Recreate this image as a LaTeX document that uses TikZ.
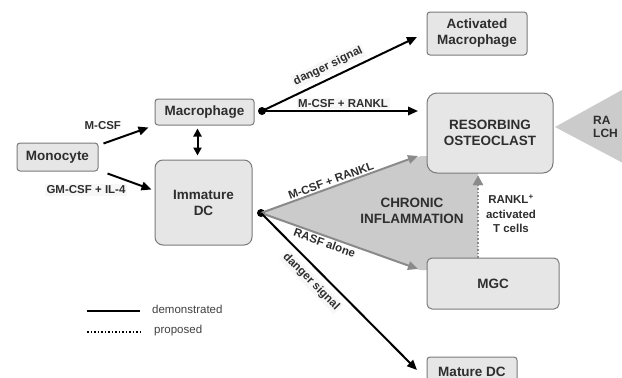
\documentclass[tikz,border=0pt]{standalone}
\usepackage{fontspec}
\setmainfont{Liberation Sans}
\usetikzlibrary{arrows.meta,calc}
\definecolor{boxfill}{HTML}{E6E6E6}
\definecolor{boxline}{HTML}{7A7A7A}
\definecolor{txt}{HTML}{2E2E2E}
\definecolor{regfill}{HTML}{CBCBCB}
\definecolor{grayarrow}{HTML}{8A8A8A}
\tikzset{
  cellbox/.style={draw=boxline, fill=boxfill, line width=1pt, rounded corners=3pt,
    font=\fontsize{13.5}{16}\selectfont\bfseries, text=txt, align=center, inner sep=0pt},
  elabel/.style={font=\fontsize{11.5}{13}\selectfont\bfseries, text=txt, fill=black!3, inner sep=1.5pt},
  blackarrow/.style={line width=2pt, -{Triangle[length=10pt,width=8.5pt]}},
  grayarr/.style={line width=2pt, draw=grayarrow, -{Triangle[length=10pt,width=8.5pt]}, grayarrow},
  junction/.style={circle, fill=black, inner sep=0pt, minimum size=8pt},
  legtext/.style={font=\fontsize{11.5}{13}\selectfont, text=black!75, anchor=west, inner sep=0pt}
}
\begin{document}
\begin{tikzpicture}[x=1pt,y=-1pt]
\useasboundingbox (0,0) rectangle (622,378);
\clip (0,0) rectangle (622,378);
% shaded regions
\fill[regfill] (261,213) -- (421,156) -- (478,156) -- (478,270) -- (420,270) -- cycle;
\fill[regfill] (555,127) -- (640,80) -- (640,172) -- cycle;
% boxes
\node[cellbox, minimum width=81pt, minimum height=28pt] (mono) at (57.5,157) {Monocyte};
\node[cellbox, minimum width=99pt, minimum height=26pt] (macro) at (204.5,112) {Macrophage};
\node[cellbox, rounded corners=8pt, minimum width=97pt, minimum height=85pt] (idc) at (203.5,202.5) {Immature\\DC};
\node[cellbox, minimum width=100pt, minimum height=43pt] (actmac) at (477,33.5) {Activated\\Macrophage};
\node[cellbox, rounded corners=10pt, minimum width=126pt, minimum height=80pt] (osteo) at (490,133) {RESORBING\\OSTEOCLAST};
\node[cellbox, rounded corners=5pt, minimum width=132pt, minimum height=51pt] (mgc) at (493,283.5) {MGC};
\node[cellbox, minimum width=90pt, minimum height=30pt] (mature) at (472,372) {Mature DC};
% texts
\node[font=\fontsize{13.5}{16}\selectfont\bfseries, text=txt, align=center] (chronic) at (412,211) {CHRONIC\\INFLAMMATION};
\node[font=\fontsize{11.5}{14.5}\selectfont\bfseries, text=txt, align=center] (tcells) at (511,214) {RANKL\textsuperscript{+}\\activated\\T cells};
\node[font=\fontsize{12}{13}\selectfont\bfseries, text=txt, align=left, anchor=west, inner sep=0pt] (ralch) at (593,127) {RA\\LCH};
% junctions
\node[junction] (j1) at (262,111) {};
\node[junction] (j2) at (261,213) {};
% endpoints
\coordinate (tipAct) at (417,37);
\coordinate (tipOst) at (418,111);
\coordinate (tipOst2) at (418,156);
\coordinate (tipMgc) at (418,269);
\coordinate (tipMat) at (417,370);
\coordinate (dotBot) at (478,258);
\coordinate (dotTop) at (478,176);
% connectors
\draw[blackarrow] ($(mono.north east)+(5,1)$) -- node[elabel, fill=none, pos=0, anchor=south east, xshift=20pt, yshift=11pt] (lmcsf) {M-CSF} ($(macro.south west)+(-6,2)$);
\draw[blackarrow] ($(mono.south east)+(9,2)$) -- ($(idc.north west)+(-3,30)$);
\node[elabel] (lgm) at (86,190) {GM-CSF + IL-4};
\draw[line width=2pt, {Triangle[length=8pt,width=8pt]}-{Triangle[length=8pt,width=8pt]}] ($(macro.south)+(-7,3)$) -- ($(idc.north)+(-6,-4)$);
\draw[blackarrow] (j1.center) -- node[elabel, sloped, pos=0.46, above=4pt] (lds1) {danger signal} (tipAct);
\draw[blackarrow] (j1.center) -- node[elabel, pos=0.52, above=1pt] (lmr1) {M-CSF + RANKL} (tipOst);
\draw[grayarr] (j2.center) -- node[elabel, fill=none, sloped, pos=0.46, above=0pt] (lmr2) {M-CSF + RANKL} (tipOst2);
\draw[grayarr] (j2.center) -- node[elabel, fill=none, sloped, pos=0.42, below=0pt] (lrasf) {RASF alone} (tipMgc);
\draw[blackarrow] (j2.center) -- node[elabel, sloped, pos=0.38, below=5pt] (lds2) {danger signal} (tipMat);
\draw[line width=1.6pt, grayarrow, dotted, -] (dotBot) -- ($(dotTop)+(0,8)$);
\draw[grayarrow, fill=grayarrow] (dotTop) -- ++(-5,9) -- ++(10,0) -- cycle;
% legend
\coordinate (ls1) at (87,311);
\coordinate (ls2) at (140,311);
\coordinate (ld1) at (87,332);
\coordinate (ld2) at (140,332);
\draw[line width=2pt] (ls1) -- (ls2);
\draw[line width=1.5pt, dotted] (ld1) -- (ld2);
\node[legtext] (tdem) at (152,309) {demonstrated};
\node[legtext] (tprop) at (154,331) {proposed};
\end{tikzpicture}
\end{document}
